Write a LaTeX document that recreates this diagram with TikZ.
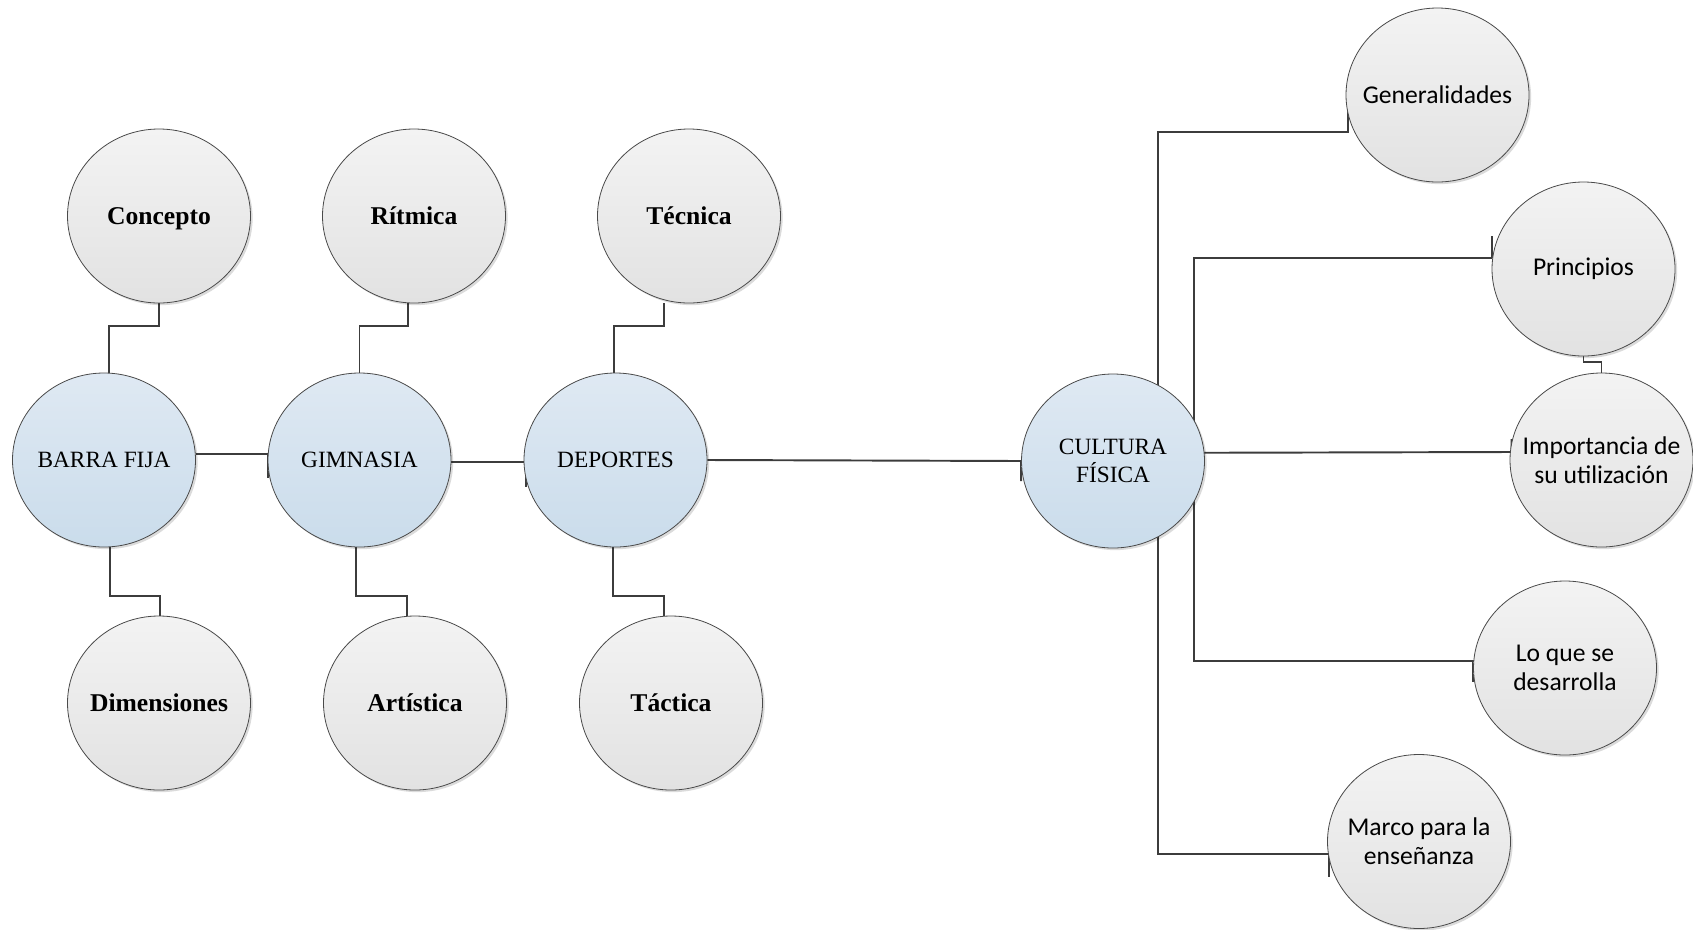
\documentclass[tikz,border=0pt]{standalone}
\usepackage{fontspec}
\setmainfont{Liberation Serif}
\newfontfamily\calib{Carlito}
\usetikzlibrary{shapes.geometric,shadows,backgrounds,calc}
\definecolor{gtop}{HTML}{F3F3F3}
\definecolor{gbot}{HTML}{E2E2E2}
\definecolor{btop}{HTML}{DFE9F3}
\definecolor{bbot}{HTML}{CADCEB}
\definecolor{bordc}{HTML}{4A4A4A}
\definecolor{linec}{HTML}{3C3C3C}
\begin{document}
\begin{tikzpicture}[x=0.75pt,y=-0.75pt,
  bub/.style={ellipse, draw=bordc, line width=0.6pt, minimum width=137.25pt,
    minimum height=130.5pt, inner sep=0pt,
    drop shadow={shadow xshift=1.6pt, shadow yshift=-1.6pt, fill=black, opacity=0.14}},
  grey/.style={bub, top color=gtop, bottom color=gbot},
  blue/.style={bub, top color=btop, bottom color=bbot},
  boldlab/.style={font=\fontsize{19.2}{23}\selectfont\bfseries, text depth=0pt},
  serlab/.style={font=\fontsize{17.5}{21}\selectfont, align=center},
  callab/.style={font=\calib\fontsize{19.2}{21.8}\selectfont, align=center},
  conn/.style={draw=linec, line width=1.45pt}]
\useasboundingbox (0,0) rectangle (1693,929);

% left part
\node[grey, label={[boldlab]center:Concepto}] (concepto) at (159,216) {};
\node[grey, label={[boldlab]center:Rítmica}] (ritmica) at (414,216) {};
\node[grey, label={[boldlab]center:Técnica}] (tecnica) at (689,216) {};
\node[blue, label={[serlab]center:BARRA FIJA}] (barra) at (104,460) {};
\node[blue, label={[serlab]center:GIMNASIA}] (gimnasia) at (359.5,460) {};
\node[blue, label={[serlab]center:DEPORTES}] (deportes) at (615.5,460) {};
\node[grey, label={[boldlab]center:Dimensiones}] (dimens) at (159,703) {};
\node[grey, label={[boldlab]center:Artística}] (artistica) at (415,703) {};
\node[grey, label={[boldlab]center:Táctica}] (tactica) at (671,703) {};

% right part
\node[blue, label={[serlab]center:CULTURA\\FÍSICA}] (cultura) at (1113,461) {};
\node[grey, label={[callab]center:Generalidades}] (gen) at (1437.5,95) {};
\node[grey, label={[callab]center:Principios}] (princ) at (1583.5,269) {};
\node[grey, label={[callab]center:Importancia de\\su utilización}] (imp) at (1601.5,460) {};
\node[grey, label={[callab]center:Lo que se\\desarrolla}] (lo) at (1565,668) {};
\node[grey, label={[callab]center:Marco para la\\enseñanza}] (marco) at (1419,841.5) {};

\begin{pgfonlayer}{background}
% vertical links, left
\draw[conn] (concepto.south) -- ++(0,23) -| ([xshift=3.75pt]barra.north);
\draw[conn] ([xshift=-4.5pt]ritmica.south) -- ++(0,23) -| (gimnasia.north);
\draw[conn] ([xshift=-18.75pt]tecnica.south) -- ++(0,23) -| ([xshift=-1.1pt]deportes.north);
\draw[conn] ([xshift=4.5pt]barra.south) -- ++(0,49) -| ([xshift=0.75pt]dimens.north);
\draw[conn] ([xshift=-2.6pt]gimnasia.south) -- ++(0,49) -| ([xshift=-6pt]artistica.north);
\draw[conn] ([xshift=-1.9pt]deportes.south) -- ++(0,49) -| ([xshift=-5.25pt]tactica.north);
% horizontal chain
\draw[conn] ([yshift=4.5pt]barra.east) -- ([yshift=4.5pt]gimnasia.west) -- ++(0,24);
\draw[conn] ([yshift=-1.5pt]gimnasia.east) -- ([shift={(2pt,-1.5pt)}]deportes.west) -- ++(0,25);
\draw[conn] (deportes.east) -- (cultura.west) -- ++(0,20);
% right links
\draw[conn] ([xshift=33.75pt]cultura.center) |- ([shift={(1.5pt,-27.75pt)}]gen.west) -- ++(0,-30);
\draw[conn] ([xshift=60.75pt]cultura.center) |- ([yshift=8.25pt]princ.west) -- ++(0,-22);
\draw[conn] ([yshift=6pt]cultura.center) -- ([shift={(1.5pt,6pt)}]imp.west) -- ++(0,-13);
\draw[conn] ([xshift=60.75pt]cultura.center) |- ([yshift=5.25pt]lo.west) -- ++(0,21);
\draw[conn] ([xshift=33.75pt]cultura.center) |- ([shift={(1.5pt,-9.4pt)}]marco.west) -- ++(0,23);
\draw[conn] (princ.south) -- ++(0,6) -| (imp.north);
\end{pgfonlayer}
\end{tikzpicture}
\end{document}
